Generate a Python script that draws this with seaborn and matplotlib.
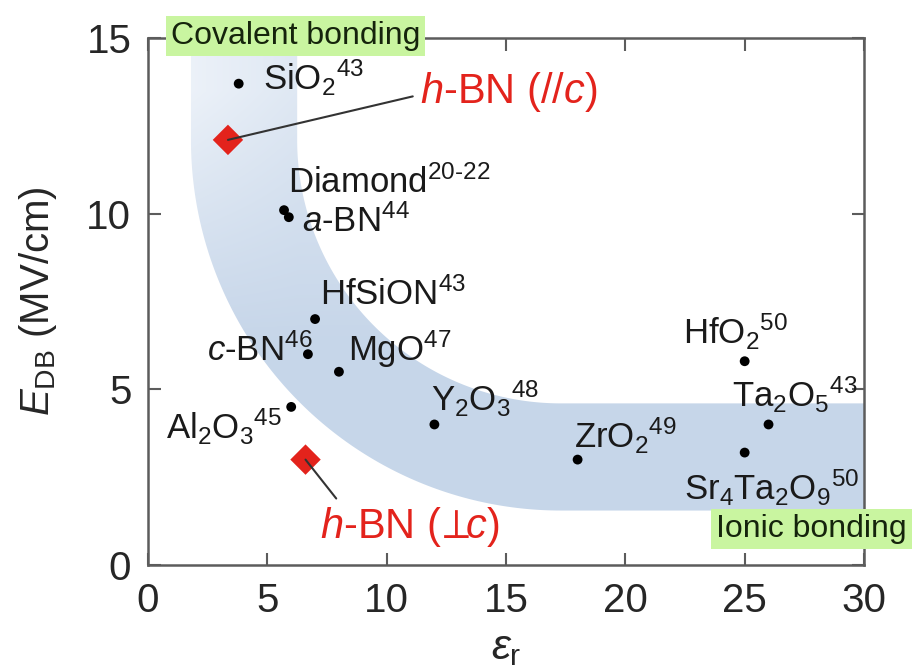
import numpy as np
import matplotlib
matplotlib.use("Agg")
import matplotlib.pyplot as plt
import seaborn as sns
import pandas as pd
from matplotlib.path import Path
from matplotlib.patches import PathPatch

# ---- data -------------------------------------------------------------
materials = ["SiO2", "Diamond", "a-BN", "HfSiON", "c-BN", "MgO", "Al2O3",
             "Y2O3", "ZrO2", "HfO2", "Ta2O5", "Sr4Ta2O9"]
eps_r = [3.8, 5.7, 5.9, 7.0, 6.7, 8.0, 6.0, 12.0, 18.0, 25.0, 26.0, 25.0]
e_db = [13.7, 10.1, 9.9, 7.0, 6.0, 5.5, 4.5, 4.0, 3.0, 5.8, 4.0, 3.2]
labels = [
    r"SiO$_2$$^{43}$",
    r"Diamond$^{20\text{-}22}$",
    r"$a$-BN$^{44}$",
    r"HfSiON$^{43}$",
    r"$c$-BN$^{46}$",
    r"MgO$^{47}$",
    r"Al$_2$O$_3$$^{45}$",
    r"Y$_2$O$_3$$^{48}$",
    r"ZrO$_2$$^{49}$",
    r"HfO$_2$$^{50}$",
    r"Ta$_2$O$_5$$^{43}$",
    r"Sr$_4$Ta$_2$O$_9$$^{50}$",
]

hbn_orient = ["//c", "perp c"]
hbn_eps = [3.35, 6.6]
hbn_edb = [12.1, 3.0]
hbn_labels = [r"$h$-BN (//$c$)", r"$h$-BN ($\!\perp\!\!c$)"]

x_ticks = [0, 5, 10, 15, 20, 25, 30]
y_ticks = [0, 5, 10, 15]

# ---- label layout (offsets in pixels from each point, alignment) -------
label_layout = {
    "SiO2": (24, 6, "left"),
    "Diamond": (4, 28, "left"),
    "a-BN": (13, -4, "left"),
    "HfSiON": (5, 25, "left"),
    "c-BN": (5, 4, "right"),
    "MgO": (9, 23, "left"),
    "Al2O3": (-9, -20, "right"),
    "Y2O3": (-3, 26, "left"),
    "ZrO2": (-4, 24, "left"),
    "HfO2": (-9, 29, "center"),
    "Ta2O5": (-37, 30, "left"),
    "Sr4Ta2O9": (-61, -35, "left"),
}

# ---- style -------------------------------------------------------------
sns.set_theme(style="ticks")
plt.rcParams["font.family"] = ["Liberation Sans", "DejaVu Sans"]
plt.rcParams["mathtext.fontset"] = "custom"
plt.rcParams["mathtext.rm"] = "Liberation Sans"
plt.rcParams["mathtext.it"] = "Liberation Sans:italic"
plt.rcParams["mathtext.bf"] = "Liberation Sans:bold"

spine_color = "#5c5c5c"
red = "#e3231c"
band_color = np.array([0.78, 0.84, 0.915])
band_pale = np.array([0.95, 0.965, 0.985])
box_green = "#c9f5a0"

fig = plt.figure(figsize=(9.2, 6.68), dpi=100)
ax = fig.add_axes([148 / 920, 1 - 565 / 668, (864 - 148) / 920, (565 - 38) / 668])
ax.set_xlim(0, 30)
ax.set_ylim(0, 15)

# ---- guide band: quarter elliptical ring with straight arms ------------
cx, cy = 17.3, 12.1
r_out = (15.5, 10.55)
r_in = (11.05, 7.5)
top = 16.0
right = 31.0
th_out = np.linspace(np.pi, 1.5 * np.pi, 120)
th_in = th_out[::-1]
outer = np.column_stack([cx + r_out[0] * np.cos(th_out), cy + r_out[1] * np.sin(th_out)])
inner = np.column_stack([cx + r_in[0] * np.cos(th_in), cy + r_in[1] * np.sin(th_in)])
verts = np.vstack([
    [[cx - r_out[0], top]],
    outer,
    [[right, cy - r_out[1]], [right, cy - r_in[1]]],
    inner,
    [[cx - r_in[0], top]],
    [[cx - r_out[0], top]],
])
band_path = Path(verts, closed=True)
band_patch = PathPatch(band_path, facecolor="none", edgecolor="none", transform=ax.transData)
ax.add_patch(band_patch)

gx, gy = np.meshgrid(np.linspace(0, 30, 600), np.linspace(0, 15, 400))
w = np.clip((gy - 6.5) / 7.0, 0, 1) * (1 - 0.35 * np.clip((gx - 1.8) / 4.5, 0, 1))
w = w * 0.85
rgb = band_color[None, None, :] * (1 - w[..., None]) + band_pale[None, None, :] * w[..., None]
img = ax.imshow(rgb, extent=[0, 30, 0, 15], origin="lower", aspect="auto",
                interpolation="bilinear", zorder=0.5)
img.set_clip_path(band_patch)

# ---- points -------------------------------------------------------------
df = pd.DataFrame({"material": materials, "eps_r": eps_r, "e_db": e_db})
sns.scatterplot(data=df, x="eps_r", y="e_db", color="black", s=50,
                edgecolor="none", ax=ax, zorder=3, legend=False)

hbn = pd.DataFrame({"orient": hbn_orient, "eps_r": hbn_eps, "e_db": hbn_edb})
sns.scatterplot(data=hbn, x="eps_r", y="e_db", color=red, marker="D", s=240,
                edgecolor="none", ax=ax, zorder=4, legend=False)

label_fs = 25
for name, x, y, lab in zip(materials, eps_r, e_db, labels):
    dx, dy, ha = label_layout[name]
    ax.annotate(lab, (x, y), xytext=(dx, dy), textcoords="offset pixels",
                ha=ha, va="center", fontsize=label_fs, color="#1a1a1a", zorder=5)

# h-BN labels with leader lines
hbn_text_pos = [(11.4, 13.45), (7.2, 1.08)]
hbn_relpos = [(0.0, 0.45), (0.12, 1.0)]
for x, y, lab, (tx, ty), rp in zip(hbn_eps, hbn_edb, hbn_labels, hbn_text_pos, hbn_relpos):
    ax.annotate(lab, (x, y), xytext=(tx, ty), textcoords="data",
                ha="left", va="center", fontsize=30, color=red, zorder=5,
                arrowprops=dict(arrowstyle="-", color="#333333", lw=1.5,
                                relpos=rp, shrinkA=3, shrinkB=0))

# ---- region tags --------------------------------------------------------
ax.text(6.2, 15.06, "Covalent bonding", ha="center", va="center", fontsize=23,
        color="#15240c", zorder=6, clip_on=False,
        bbox=dict(boxstyle="square,pad=0.15", facecolor=box_green, edgecolor="none"))
ax.text(27.8, 1.02, "Ionic bonding", ha="center", va="center", fontsize=23,
        color="#15240c", zorder=6, clip_on=False,
        bbox=dict(boxstyle="square,pad=0.15", facecolor=box_green, edgecolor="none"))

# ---- axes styling -------------------------------------------------------
ax.set_xticks(x_ticks)
ax.set_yticks(y_ticks)
ax.tick_params(direction="in", length=9, width=1.5, color=spine_color,
               labelsize=29, top=True, right=True, pad=12)
for sp in ax.spines.values():
    sp.set_visible(True)
    sp.set_color(spine_color)
    sp.set_linewidth(1.8)
    sp.set_zorder(2)

ax.set_xlabel(r"$\varepsilon_{\mathrm{r}}$", fontsize=31, labelpad=6)
ax.set_ylabel(r"$E_{\mathrm{DB}}$ (MV/cm)", fontsize=29, labelpad=20)
ax.set_facecolor("white")

fig.savefig("out.png", dpi=100, facecolor="white")
